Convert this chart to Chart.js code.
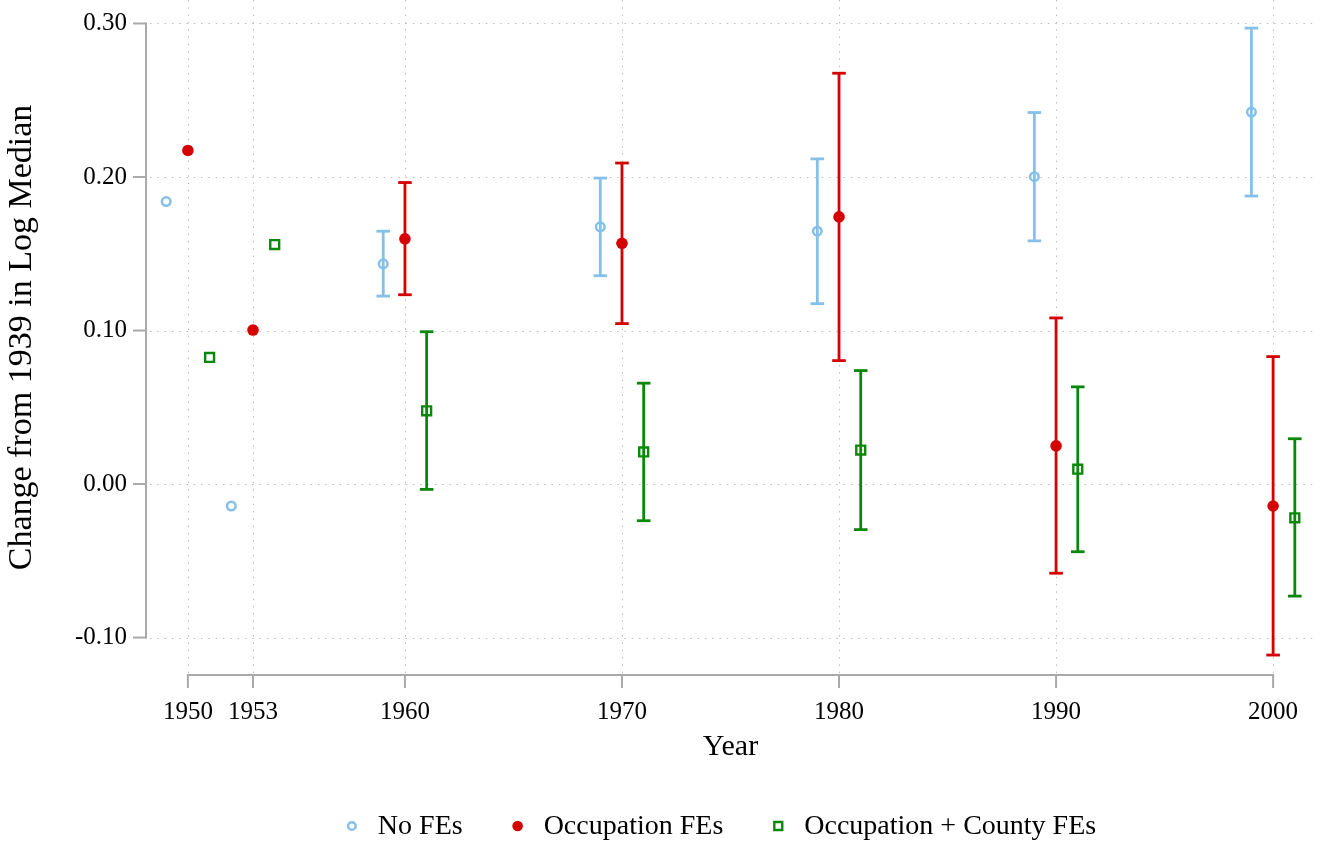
<!DOCTYPE html>
<html>
<head>
<meta charset="utf-8">
<script src="https://cdn.jsdelivr.net/npm/chart.js@4.4.1/dist/chart.umd.min.js"></script>
<style>
  html, body { margin: 0; padding: 0; background: #ffffff; }
  #wrap { width: 1325px; height: 841px; }
</style>
</head>
<body>
<div id="wrap"><canvas id="c" width="1325" height="841"></canvas></div>
<script>
// ---------------- DATA ----------------
const years = [1950, 1953, 1960, 1970, 1980, 1990, 2000];
const xTicks = [1950, 1953, 1960, 1970, 1980, 1990, 2000];
const yTicks = [-0.1, 0.0, 0.1, 0.2, 0.3];

const seriesNames = ["No FEs", "Occupation FEs", "Occupation + County FEs"];

const noFE     = [0.1840, -0.0143, 0.1434, 0.1675, 0.1647, 0.2002, 0.2423];
const noFE_lo  = [null, null, 0.1224, 0.1357, 0.1175, 0.1584, 0.1876];
const noFE_hi  = [null, null, 0.1647, 0.1993, 0.2118, 0.2420, 0.2970];

const occ      = [0.2173, 0.1003, 0.1597, 0.1568, 0.1740, 0.0249, -0.0143];
const occ_lo   = [null, null, 0.1233, 0.1045, 0.0804, -0.0581, -0.1114];
const occ_hi   = [null, null, 0.1964, 0.2091, 0.2676, 0.1082, 0.0830];

const cty      = [0.0825, 0.1560, 0.0477, 0.0209, 0.0221, 0.0097, -0.0220];
const cty_lo   = [null, null, -0.0035, -0.0239, -0.0297, -0.0441, -0.0730];
const cty_hi   = [null, null, 0.0992, 0.0657, 0.0739, 0.0633, 0.0295];

// ---------------- STYLE ----------------
const FONT = "'Liberation Serif', 'Times New Roman', serif";
const colBlue = "#85c0e9";
const colRed = "#d50000";
const colGreen = "#0b870b";
const axisGray = "#a9a9a9";
const gridGray = "#bdbdbd";
const dodge = [-1, 0, 1];

function mk(vals, lo, hi, d) {
  return vals.map((v, i) => ({ x: years[i] + d, y: v, lo: lo[i], hi: hi[i] }));
}

const markerStyles = [
  { style: 'circle', radius: 4.3, bw: 2.5, fill: 'rgba(0,0,0,0)', stroke: colBlue, lr: 3.8 },
  { style: 'circle', radius: 5.8, bw: 0, fill: colRed, stroke: colRed, lr: 5.3 },
  { style: 'rect', radius: 6.3, bw: 2.4, fill: 'rgba(0,0,0,0)', stroke: colGreen, lr: 5.6 }
];
const seriesVals = [[noFE, noFE_lo, noFE_hi], [occ, occ_lo, occ_hi], [cty, cty_lo, cty_hi]];
const seriesCols = [colBlue, colRed, colGreen];

const datasets = seriesNames.map((name, k) => {
  const m = markerStyles[k];
  return {
    label: name,
    data: mk(seriesVals[k][0], seriesVals[k][1], seriesVals[k][2], dodge[k]),
    pointStyle: m.style,
    pointRadius: m.radius,
    pointBorderWidth: m.bw,
    pointBorderColor: m.stroke,
    pointBackgroundColor: m.fill,
    borderWidth: m.bw,
    borderColor: m.stroke,
    backgroundColor: m.fill,
    showLine: false,
    ebColor: seriesCols[k],
    mk: m
  };
});

const decor = {
  id: 'decor',
  beforeDatasetsDraw(chart) {
    const { ctx, chartArea: ca, scales: { x, y } } = chart;
    ctx.save();
    // grid lines (dotted)
    ctx.strokeStyle = gridGray;
    ctx.lineWidth = 1;
    ctx.setLineDash([1.5, 5.8]);
    xTicks.forEach(t => {
      const px = Math.round(x.getPixelForValue(t)) + 0.5;
      ctx.beginPath(); ctx.moveTo(px, ca.top); ctx.lineTo(px, ca.bottom - 2); ctx.stroke();
    });
    yTicks.forEach(t => {
      const py = Math.round(y.getPixelForValue(t)) + 0.5;
      ctx.beginPath(); ctx.moveTo(ca.left + 4, py); ctx.lineTo(ca.right, py); ctx.stroke();
    });
    ctx.setLineDash([]);
    // axis lines
    ctx.strokeStyle = axisGray;
    ctx.lineWidth = 2;
    const yTop = y.getPixelForValue(yTicks[yTicks.length - 1]);
    const yBot = y.getPixelForValue(yTicks[0]);
    ctx.beginPath(); ctx.moveTo(ca.left, yTop - 1); ctx.lineTo(ca.left, yBot + 1); ctx.stroke();
    yTicks.forEach(t => {
      const py = y.getPixelForValue(t);
      ctx.beginPath(); ctx.moveTo(ca.left - 13, py); ctx.lineTo(ca.left, py); ctx.stroke();
    });
    const xL = x.getPixelForValue(xTicks[0]);
    const xR = x.getPixelForValue(xTicks[xTicks.length - 1]);
    ctx.beginPath(); ctx.moveTo(xL - 1, ca.bottom); ctx.lineTo(xR + 1, ca.bottom); ctx.stroke();
    xTicks.forEach(t => {
      const px = x.getPixelForValue(t);
      ctx.beginPath(); ctx.moveTo(px, ca.bottom); ctx.lineTo(px, ca.bottom + 13); ctx.stroke();
    });
    // error bars
    chart.data.datasets.forEach(ds => {
      ctx.strokeStyle = ds.ebColor;
      ctx.lineWidth = 2.8;
      ds.data.forEach(p => {
        if (p.lo == null || p.hi == null) return;
        const px = x.getPixelForValue(p.x);
        const pl = y.getPixelForValue(p.lo);
        const ph = y.getPixelForValue(p.hi);
        ctx.beginPath(); ctx.moveTo(px, pl); ctx.lineTo(px, ph); ctx.stroke();
        ctx.beginPath(); ctx.moveTo(px - 6.8, ph); ctx.lineTo(px + 6.8, ph); ctx.stroke();
        ctx.beginPath(); ctx.moveTo(px - 6.8, pl); ctx.lineTo(px + 6.8, pl); ctx.stroke();
      });
    });
    ctx.restore();
  },
  afterDraw(chart) {
    // legend
    const { ctx, chartArea: ca } = chart;
    ctx.save();
    ctx.font = "28px " + FONT;
    ctx.textBaseline = "middle";
    const gapMarkerText = 26, gapItems = 55;
    const widths = chart.data.datasets.map(ds => ctx.measureText(ds.label).width);
    let total = 0;
    widths.forEach((w, i) => { total += gapMarkerText + w + (i < widths.length - 1 ? gapItems : 0); });
    total += 5;
    const cx = (ca.left + ca.right) / 2 - 9;
    let xx = cx - total / 2 + 5;
    const ly = 826;
    chart.data.datasets.forEach((ds, i) => {
      const m = ds.mk;
      ctx.fillStyle = m.fill;
      ctx.strokeStyle = m.stroke;
      ctx.lineWidth = m.bw;
      ctx.beginPath();
      if (m.style === 'rect') {
        const s = m.lr * Math.SQRT1_2;
        ctx.rect(xx - s, ly - s, 2 * s, 2 * s);
      } else {
        ctx.arc(xx, ly, m.lr, 0, Math.PI * 2);
      }
      ctx.fill();
      if (m.bw) ctx.stroke();
      ctx.fillStyle = "#000";
      ctx.fillText(ds.label, xx + gapMarkerText, ly + 1);
      xx += gapMarkerText + widths[i] + gapItems;
    });
    ctx.restore();
  }
};

function noPad(s) { s.paddingTop = 0; s.paddingBottom = 0; s.paddingLeft = 0; s.paddingRight = 0; }

new Chart(document.getElementById('c'), {
  type: 'scatter',
  data: { datasets },
  options: {
    responsive: false,
    animation: false,
    devicePixelRatio: 1,
    layout: { autoPadding: false, padding: { left: 0, right: 10, top: 0, bottom: 0 } },
    plugins: { legend: { display: false }, tooltip: { enabled: false } },
    scales: {
      x: {
        type: 'linear', position: 'bottom', min: 1948.07, max: 2001.93,
        grid: { display: false, drawTicks: false },
        border: { display: false },
        afterBuildTicks: s => { s.ticks = xTicks.map(v => ({ value: v })); },
        afterFit: s => { s.height = 166; noPad(s); },
        ticks: { autoSkip: false, maxRotation: 0, padding: 22, color: '#000',
                 font: { family: FONT, size: 25 }, callback: v => String(v) },
        title: { display: true, text: 'Year', color: '#000', font: { family: FONT, size: 30 },
                 padding: { top: 0, bottom: 76 } }
      },
      y: {
        type: 'linear', position: 'left', min: -0.1244, max: 0.3153,
        grid: { display: false, drawTicks: false },
        border: { display: false },
        afterBuildTicks: s => { s.ticks = yTicks.map(v => ({ value: v })); },
        afterFit: s => { s.width = 146; noPad(s); },
        ticks: { autoSkip: false, padding: 19, color: '#000',
                 font: { family: FONT, size: 25 }, callback: v => Number(v).toFixed(2) },
        title: { display: true, text: 'Change from 1939 in Log Median', color: '#000',
                 font: { family: FONT, size: 34 }, padding: { top: 2, bottom: 0 } }
      }
    }
  },
  plugins: [decor]
});
</script>
</body>
</html>
